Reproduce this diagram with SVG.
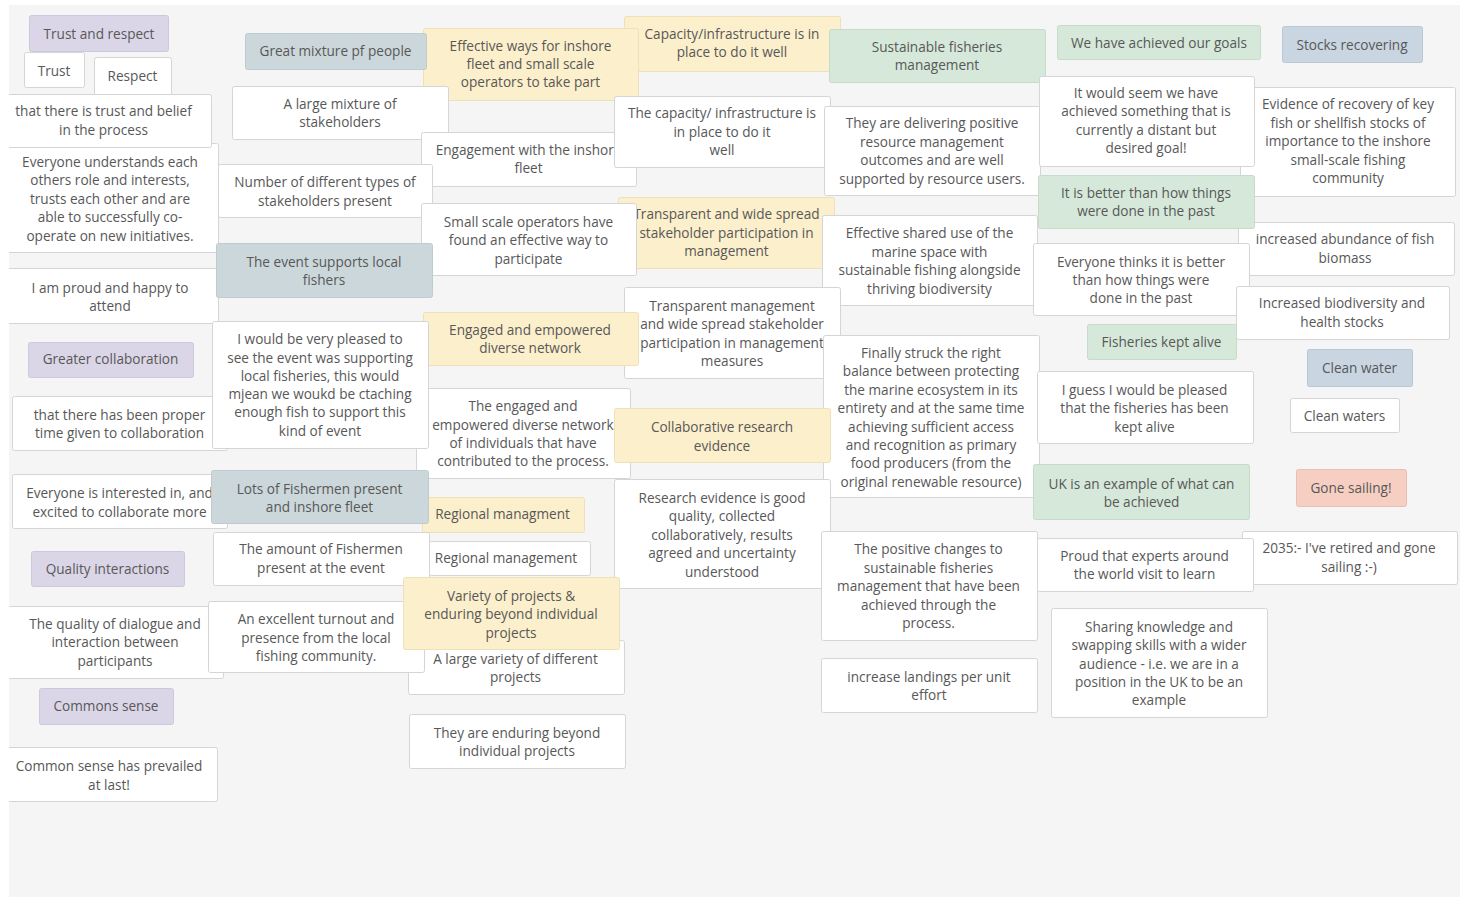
<svg xmlns="http://www.w3.org/2000/svg" width="1466" height="901" viewBox="0 0 1466 901">
<style>
text{font-family:"Open Sans","Noto Sans","Liberation Sans",sans-serif;font-size:13.6px;fill:#585858;text-anchor:middle}
.w{fill:#ffffff;stroke:#d5d5d5;stroke-width:1}
.pu{fill:#dbd6e7;stroke:#cdc8da;stroke-width:1}
.te{fill:#cbd7da;stroke:#bfcccf;stroke-width:1}
.ye{fill:#fcefcb;stroke:#eee0b8;stroke-width:1}
.gr{fill:#d5e8d9;stroke:#c6dbca;stroke-width:1}
.bl{fill:#c9d5e1;stroke:#bac7d4;stroke-width:1}
.sa{fill:#f6cfc2;stroke:#e8c0b3;stroke-width:1}
</style>
<defs>
<clipPath id="board"><rect x="9" y="5" width="1451" height="892"/></clipPath>
</defs>
<rect x="0" y="0" width="1466" height="901" fill="#ffffff"/>
<rect x="9" y="5" width="1451" height="892" fill="#f5f5f5"/>
<g id="connectors"/>
<g id="notes" clip-path="url(#board)">
<g id="n-trust-respect"><rect class="pu" x="29.5" y="15.5" width="139" height="36" rx="2"/><text x="99" y="39">Trust and respect</text></g>
<g id="n-trust"><rect class="w" x="24.5" y="52.5" width="60" height="35" rx="2"/><text x="54" y="76">Trust</text></g>
<g id="n-respect"><rect class="w" x="94.5" y="57.5" width="77" height="40" rx="2"/><text x="132.5" y="81">Respect</text></g>
<g id="n-everyone-understands"><rect class="w" x="2.5" y="143.5" width="216" height="109" rx="2"/><text><tspan x="110" y="167">Everyone understands each</tspan><tspan x="110" y="185">others role and interests,</tspan><tspan x="110" y="204">trusts each other and are</tspan><tspan x="110" y="222">able to successfully co-</tspan><tspan x="110" y="241">operate on new initiatives.</tspan></text></g>
<g id="n-trust-belief"><rect class="w" x="-5.5" y="94.5" width="217" height="53" rx="2"/><text><tspan x="103.5" y="116">that there is trust and belief</tspan><tspan x="103.5" y="135">in the process</tspan></text></g>
<g id="n-proud"><rect class="w" x="2.5" y="268.5" width="216" height="55" rx="2"/><text><tspan x="110" y="293">I am proud and happy to</tspan><tspan x="110" y="311">attend</tspan></text></g>
<g id="n-greater-collab"><rect class="pu" x="28.5" y="342.5" width="165" height="35" rx="2"/><text x="110.5" y="364">Greater collaboration</text></g>
<g id="n-proper-time"><rect class="w" x="12.5" y="396.5" width="215" height="54" rx="2"/><text><tspan x="119.5" y="420">that there has been proper</tspan><tspan x="119.5" y="438">time given to collaboration</tspan></text></g>
<g id="n-interested"><rect class="w" x="12.5" y="474.5" width="215" height="54" rx="2"/><text><tspan x="119.5" y="498">Everyone is interested in, and</tspan><tspan x="119.5" y="517">excited to collaborate more</tspan></text></g>
<g id="n-quality-interactions"><rect class="pu" x="31.5" y="551.5" width="153" height="35" rx="2"/><text x="107.5" y="574">Quality interactions</text></g>
<g id="n-quality-dialogue"><rect class="w" x="7.5" y="606.5" width="216" height="72" rx="2"/><text><tspan x="115" y="629">The quality of dialogue and</tspan><tspan x="115" y="647">interaction between</tspan><tspan x="115" y="666">participants</tspan></text></g>
<g id="n-commons-sense"><rect class="pu" x="39.5" y="688.5" width="134" height="36" rx="2"/><text x="106" y="711">Commons sense</text></g>
<g id="n-common-prevailed"><rect class="w" x="1.5" y="747.5" width="216" height="54" rx="2"/><text><tspan x="109" y="771">Common sense has prevailed</tspan><tspan x="109" y="790">at last!</tspan></text></g>
<g id="n-capacity-tag"><rect class="ye" x="624.5" y="16.5" width="216" height="55" rx="2"/><text><tspan x="732" y="39">Capacity/infrastructure is in</tspan><tspan x="732" y="57">place to do it well</tspan></text></g>
<g id="n-sustainable"><rect class="gr" x="829.5" y="29.5" width="216" height="53" rx="2"/><text><tspan x="937" y="52">Sustainable fisheries</tspan><tspan x="937" y="70">management</tspan></text></g>
<g id="n-effective-ways"><rect class="ye" x="423.5" y="28.5" width="215" height="72" rx="2"/><text><tspan x="530.5" y="51">Effective ways for inshore</tspan><tspan x="530.5" y="69">fleet and small scale</tspan><tspan x="530.5" y="87">operators to take part</tspan></text></g>
<g id="n-great-mixture"><rect class="te" x="245.5" y="33.5" width="181" height="36" rx="2"/><text x="335.5" y="56">Great mixture pf people</text></g>
<g id="n-large-mixture"><rect class="w" x="232.5" y="86.5" width="216" height="53" rx="2"/><text><tspan x="340" y="109">A large mixture of</tspan><tspan x="340" y="127">stakeholders</tspan></text></g>
<g id="n-engagement"><rect class="w" x="421.5" y="132.5" width="215" height="54" rx="2"/><text><tspan x="528.5" y="155">Engagement with the inshore</tspan><tspan x="528.5" y="173">fleet</tspan></text></g>
<g id="n-number-types"><rect class="w" x="218.5" y="164.5" width="214" height="53" rx="2"/><text><tspan x="325" y="187">Number of different types of</tspan><tspan x="325" y="206">stakeholders present</tspan></text></g>
<g id="n-capacity"><rect class="w" x="614.5" y="96.5" width="216" height="71" rx="2"/><text><tspan x="722" y="118">The capacity/ infrastructure is</tspan><tspan x="722" y="137">in place to do it</tspan><tspan x="722" y="155">well</tspan></text></g>
<g id="n-delivering"><rect class="w" x="824.5" y="106.5" width="216" height="89" rx="2"/><text><tspan x="932" y="128">They are delivering positive</tspan><tspan x="932" y="147">resource management</tspan><tspan x="932" y="165">outcomes and are well</tspan><tspan x="932" y="184">supported by resource users.</tspan></text></g>
<g id="n-transparent-tag"><rect class="ye" x="618.5" y="197.5" width="216" height="71" rx="2"/><text><tspan x="726.5" y="219">Transparent and wide spread</tspan><tspan x="726.5" y="238">stakeholder participation in</tspan><tspan x="726.5" y="256">management</tspan></text></g>
<g id="n-small-scale"><rect class="w" x="421.5" y="203.5" width="215" height="72" rx="2"/><text><tspan x="528.5" y="227">Small scale operators have</tspan><tspan x="528.5" y="245">found an effective way to</tspan><tspan x="528.5" y="264">participate</tspan></text></g>
<g id="n-event-supports"><rect class="te" x="216.5" y="243.5" width="216" height="54" rx="2"/><text><tspan x="324" y="267">The event supports local</tspan><tspan x="324" y="285">fishers</tspan></text></g>
<g id="n-shared-use"><rect class="w" x="822.5" y="215.5" width="215" height="90" rx="2"/><text><tspan x="929.5" y="238">Effective shared use of the</tspan><tspan x="929.5" y="257">marine space with</tspan><tspan x="929.5" y="275">sustainable fishing alongside</tspan><tspan x="929.5" y="294">thriving biodiversity</tspan></text></g>
<g id="n-transparent-mgmt"><rect class="w" x="624.5" y="287.5" width="216" height="91" rx="2"/><text><tspan x="732" y="311">Transparent management</tspan><tspan x="732" y="329">and wide spread stakeholder</tspan><tspan x="732" y="348">participation in management</tspan><tspan x="732" y="366">measures</tspan></text></g>
<g id="n-finally"><rect class="w" x="823.5" y="335.5" width="216" height="162" rx="2"/><text><tspan x="931" y="358">Finally struck the right</tspan><tspan x="931" y="376">balance between protecting</tspan><tspan x="931" y="395">the marine ecosystem in its</tspan><tspan x="931" y="413">entirety and at the same time</tspan><tspan x="931" y="432">achieving sufficient access</tspan><tspan x="931" y="450">and recognition as primary</tspan><tspan x="931" y="468">food producers (from the</tspan><tspan x="931" y="487">original renewable resource)</tspan></text></g>
<g id="n-engaged-tag"><rect class="ye" x="423.5" y="312.5" width="215" height="53" rx="2"/><text><tspan x="530" y="335">Engaged and empowered</tspan><tspan x="530" y="353">diverse network</tspan></text></g>
<g id="n-engaged-network"><rect class="w" x="416.5" y="388.5" width="214" height="90" rx="2"/><text><tspan x="523" y="411">The engaged and</tspan><tspan x="523" y="430">empowered diverse network</tspan><tspan x="523" y="448">of individuals that have</tspan><tspan x="523" y="466">contributed to the process.</tspan></text></g>
<g id="n-pleased"><rect class="w" x="212.5" y="321.5" width="216" height="127" rx="2"/><text><tspan x="320" y="344">I would be very pleased to</tspan><tspan x="320" y="363">see the event was supporting</tspan><tspan x="320" y="381">local fisheries, this would</tspan><tspan x="320" y="399">mjean we woukd be ctaching</tspan><tspan x="320" y="417">enough fish to support this</tspan><tspan x="320" y="436">kind of event</tspan></text></g>
<g id="n-collab-research"><rect class="ye" x="614.5" y="408.5" width="216" height="54" rx="2"/><text><tspan x="722" y="432">Collaborative research</tspan><tspan x="722" y="451">evidence</tspan></text></g>
<g id="n-research-evidence"><rect class="w" x="614.5" y="479.5" width="216" height="109" rx="2"/><text><tspan x="722" y="503">Research evidence is good</tspan><tspan x="722" y="521">quality, collected</tspan><tspan x="722" y="540">collaboratively, results</tspan><tspan x="722" y="558">agreed and uncertainty</tspan><tspan x="722" y="577">understood</tspan></text></g>
<g id="n-regional-tag"><rect class="ye" x="422.5" y="497.5" width="162" height="35" rx="2"/><text x="502.5" y="519">Regional managment</text></g>
<g id="n-lots-fishermen"><rect class="te" x="211.5" y="470.5" width="217" height="53" rx="2"/><text><tspan x="319.5" y="494">Lots of Fishermen present</tspan><tspan x="319.5" y="512">and inshore fleet</tspan></text></g>
<g id="n-amount-fishermen"><rect class="w" x="213.5" y="532.5" width="216" height="53" rx="2"/><text><tspan x="321" y="554">The amount of Fishermen</tspan><tspan x="321" y="573">present at the event</tspan></text></g>
<g id="n-regional"><rect class="w" x="429.5" y="541.5" width="161" height="34" rx="2"/><text x="506" y="563">Regional management</text></g>
<g id="n-large-variety"><rect class="w" x="408.5" y="640.5" width="216" height="54" rx="2"/><text><tspan x="515.5" y="664">A large variety of different</tspan><tspan x="515.5" y="682">projects</tspan></text></g>
<g id="n-turnout"><rect class="w" x="208.5" y="601.5" width="216" height="71" rx="2"/><text><tspan x="316" y="624">An excellent turnout and</tspan><tspan x="316" y="643">presence from the local</tspan><tspan x="316" y="661">fishing community.</tspan></text></g>
<g id="n-variety-tag"><rect class="ye" x="403.5" y="577.5" width="216" height="72" rx="2"/><text><tspan x="511" y="601">Variety of projects &amp;</tspan><tspan x="511" y="619">enduring beyond individual</tspan><tspan x="511" y="638">projects</tspan></text></g>
<g id="n-enduring"><rect class="w" x="409.5" y="714.5" width="216" height="54" rx="2"/><text><tspan x="517" y="738">They are enduring beyond</tspan><tspan x="517" y="756">individual projects</tspan></text></g>
<g id="n-positive-changes"><rect class="w" x="821.5" y="531.5" width="216" height="109" rx="2"/><text><tspan x="928.5" y="554">The positive changes to</tspan><tspan x="928.5" y="573">sustainable fisheries</tspan><tspan x="928.5" y="591">management that have been</tspan><tspan x="928.5" y="610">achieved through the</tspan><tspan x="928.5" y="628">process.</tspan></text></g>
<g id="n-landings"><rect class="w" x="821.5" y="658.5" width="216" height="54" rx="2"/><text><tspan x="929" y="682">increase landings per unit</tspan><tspan x="929" y="700">effort</tspan></text></g>
<g id="n-achieved"><rect class="gr" x="1057.5" y="25.5" width="203" height="34" rx="2"/><text x="1159" y="48">We have achieved our goals</text></g>
<g id="n-evidence"><rect class="w" x="1240.5" y="87.5" width="215" height="109" rx="2"/><text><tspan x="1348" y="109">Evidence of recovery of key</tspan><tspan x="1348" y="128">fish or shellfish stocks of</tspan><tspan x="1348" y="146">importance to the inshore</tspan><tspan x="1348" y="165">small-scale fishing</tspan><tspan x="1348" y="183">community</tspan></text></g>
<g id="n-would-seem"><rect class="w" x="1039.5" y="76.5" width="215" height="90" rx="2"/><text><tspan x="1146" y="98">It would seem we have</tspan><tspan x="1146" y="116">achieved something that is</tspan><tspan x="1146" y="135">currently a distant but</tspan><tspan x="1146" y="153">desired goal!</tspan></text></g>
<g id="n-abundance"><rect class="w" x="1238.5" y="222.5" width="216" height="53" rx="2"/><text><tspan x="1345" y="244">increased abundance of fish</tspan><tspan x="1345" y="263">biomass</tspan></text></g>
<g id="n-better"><rect class="gr" x="1038.5" y="175.5" width="216" height="53" rx="2"/><text><tspan x="1146" y="198">It is better than how things</tspan><tspan x="1146" y="216">were done in the past</tspan></text></g>
<g id="n-everyone-thinks"><rect class="w" x="1033.5" y="243.5" width="216" height="72" rx="2"/><text><tspan x="1141" y="267">Everyone thinks it is better</tspan><tspan x="1141" y="285">than how things were</tspan><tspan x="1141" y="303">done in the past</tspan></text></g>
<g id="n-biodiversity"><rect class="w" x="1236.5" y="286.5" width="213" height="53" rx="2"/><text><tspan x="1342" y="308">Increased biodiversity and</tspan><tspan x="1342" y="327">health stocks</tspan></text></g>
<g id="n-fisheries-alive"><rect class="gr" x="1087.5" y="324.5" width="149" height="35" rx="2"/><text x="1161.5" y="347">Fisheries kept alive</text></g>
<g id="n-guess"><rect class="w" x="1037.5" y="371.5" width="216" height="72" rx="2"/><text><tspan x="1144.5" y="395">I guess I would be pleased</tspan><tspan x="1144.5" y="413">that the fisheries has been</tspan><tspan x="1144.5" y="432">kept alive</tspan></text></g>
<g id="n-uk-example"><rect class="gr" x="1033.5" y="464.5" width="216" height="55" rx="2"/><text><tspan x="1141.5" y="489">UK is an example of what can</tspan><tspan x="1141.5" y="507">be achieved</tspan></text></g>
<g id="n-2035"><rect class="w" x="1242.5" y="531.5" width="215" height="53" rx="2"/><text><tspan x="1349" y="553">2035:- I've retired and gone</tspan><tspan x="1349" y="572">sailing :-)</tspan></text></g>
<g id="n-proud-experts"><rect class="w" x="1037.5" y="538.5" width="216" height="53" rx="2"/><text><tspan x="1144.5" y="561">Proud that experts around</tspan><tspan x="1144.5" y="579">the world visit to learn</tspan></text></g>
<g id="n-sharing"><rect class="w" x="1051.5" y="608.5" width="216" height="109" rx="2"/><text><tspan x="1159" y="632">Sharing knowledge and</tspan><tspan x="1159" y="650">swapping skills with a wider</tspan><tspan x="1159" y="669">audience - i.e. we are in a</tspan><tspan x="1159" y="687">position in the UK to be an</tspan><tspan x="1159" y="705">example</tspan></text></g>
<g id="n-stocks"><rect class="bl" x="1282.5" y="26.5" width="140" height="36" rx="2"/><text x="1352" y="50">Stocks recovering</text></g>
<g id="n-clean-water"><rect class="bl" x="1307.5" y="349.5" width="105" height="37" rx="2"/><text x="1359.5" y="373">Clean water</text></g>
<g id="n-clean-waters"><rect class="w" x="1290.5" y="398.5" width="109" height="34" rx="2"/><text x="1344.5" y="421">Clean waters</text></g>
<g id="n-gone-sailing"><rect class="sa" x="1296.5" y="469.5" width="110" height="37" rx="2"/><text x="1351" y="493">Gone sailing!</text></g>
</g>
</svg>
